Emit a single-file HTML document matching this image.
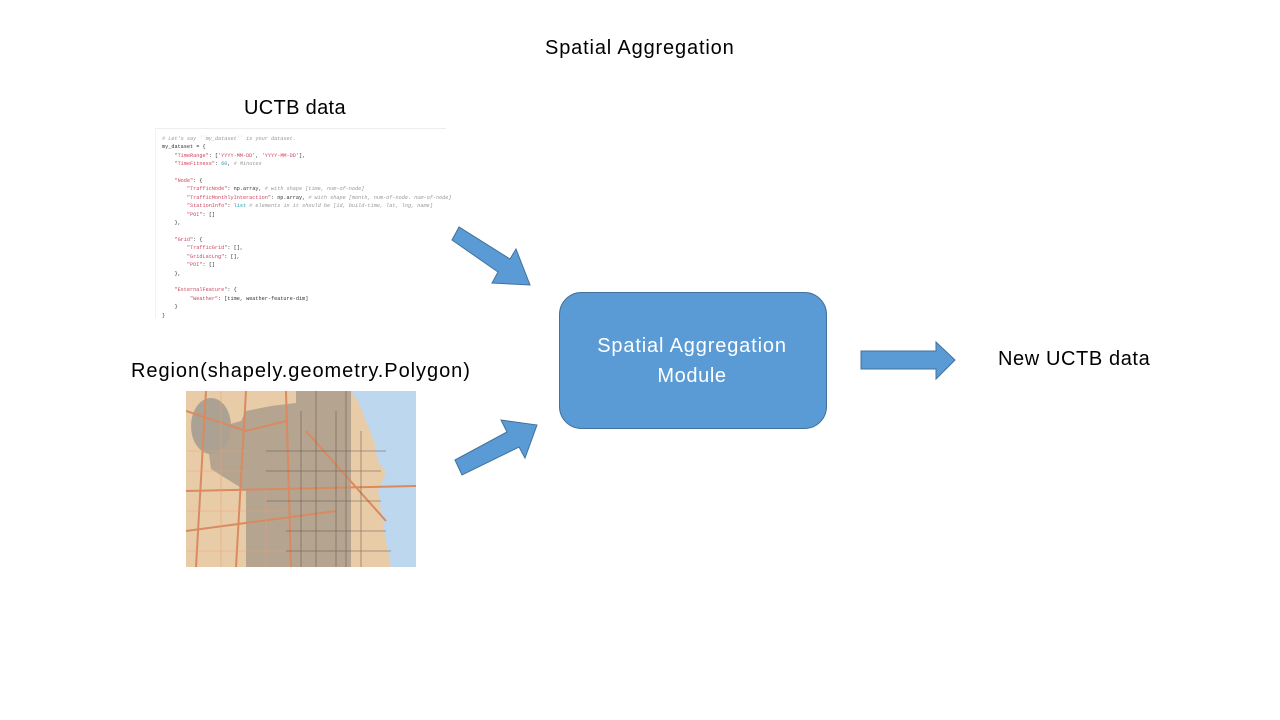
<!DOCTYPE html>
<html><head><style>
body{margin:0;width:1280px;height:720px;background:#fff;position:relative;overflow:hidden;font-family:"Liberation Sans",sans-serif}
.t{position:absolute;font-size:20px;color:#000;white-space:nowrap}
.code{position:absolute;left:155px;top:128px;width:291px;height:190px;border-top:1px solid #eee;border-left:1px solid #f2f2f2;font-family:"Liberation Mono",monospace;font-size:5.2px;line-height:8.4px;color:#333;padding:6px 0 0 6px;box-sizing:border-box;white-space:pre}
.r{color:#d0455f}.g{color:#999;font-style:italic}.b{color:#2a9bb0}
</style></head><body>
<div class="t" style="left:545px;top:37px;letter-spacing:0.85px">Spatial Aggregation</div>
<div class="t" style="left:244px;top:97px;letter-spacing:0.33px">UCTB data</div>
<div class="t" style="left:131px;top:360px;letter-spacing:0.95px">Region(shapely.geometry.Polygon)</div>
<div class="t" style="left:998px;top:348px;letter-spacing:0.6px">New UCTB data</div>
<div class="code"><span class="g"># Let's say ``my_dataset`` is your dataset.</span>
my_dataset = {
    <span class="r">"TimeRange"</span>: [<span class="r">'YYYY-MM-DD'</span>, <span class="r">'YYYY-MM-DD'</span>],
    <span class="r">"TimeFitness"</span>: <span class="b">60</span>, <span class="g"># Minutes</span>

    <span class="r">"Node"</span>: {
        <span class="r">"TrafficNode"</span>: np.array, <span class="g"># with shape [time, num-of-node]</span>
        <span class="r">"TrafficMonthlyInteraction"</span>: np.array, <span class="g"># with shape [month, num-of-node. num-of-node]</span>
        <span class="r">"StationInfo"</span>: <span class="b">list</span> <span class="g"># elements in it should be [id, build-time, lat, lng, name]</span>
        <span class="r">"POI"</span>: []
    },

    <span class="r">"Grid"</span>: {
        <span class="r">"TrafficGrid"</span>: [],
        <span class="r">"GridLatLng"</span>: [],
        <span class="r">"POI"</span>: []
    },

    <span class="r">"ExternalFeature"</span>: {
         <span class="r">"Weather"</span>: [time, weather-feature-dim]
    }
}</div>
<svg style="position:absolute;left:186px;top:391px" width="230" height="176" viewBox="0 0 230 176">
<rect width="230" height="176" fill="#e8cca8"/>
<polygon points="55,30 60,20 85,15 110,12 110,0 165,0 165,176 60,176 60,100 25,78 20,40" fill="#b5a490"/>
<ellipse cx="25" cy="35" rx="20" ry="28" fill="#aca293"/>
<path d="M165,0 L230,0 L230,176 L205,176 L200,150 L195,120 L192,100 L200,82 L192,70 L188,50 L180,30 L172,10 Z" fill="#bdd7ee"/>
<g stroke="#d98a60" stroke-width="2" fill="none">
<path d="M0,20 L60,40 L100,30"/><path d="M0,100 L230,95"/><path d="M0,140 L150,120"/><path d="M20,0 L10,176"/><path d="M100,0 L105,176"/><path d="M60,0 L50,176"/><path d="M120,40 L200,130"/>
</g>
<g stroke="#6a5a4c" stroke-width="0.8" fill="none" opacity="0.7">
<path d="M80,60 H200"/><path d="M80,80 H195"/><path d="M80,110 H195"/><path d="M100,140 H200"/><path d="M100,160 H205"/><path d="M130,0 V176"/><path d="M150,20 V176"/><path d="M175,40 V176"/><path d="M115,20 V176"/><path d="M160,0 V176"/>
</g>
<g stroke="#e9a078" stroke-width="0.6" fill="none" opacity="0.8">
<path d="M0,60 H60"/><path d="M0,80 H60"/><path d="M0,120 H100"/><path d="M0,160 H100"/><path d="M35,0 V176"/><path d="M80,100 V176"/>
</g>
</svg>
<svg style="position:absolute;left:0;top:0" width="1280" height="720">
<g fill="#5b9bd5" stroke="#41719c" stroke-width="1">
<polygon points="452,240 459,227 510,259 516,249 530,285 492,283 498,272"/>
<polygon points="455,460 462,475 519,447 525,458 537,425 501,420 507,432"/>
<polygon points="861,351 936,351 936,342 955,360 936,379 936,369 861,369"/>
<rect x="559.5" y="292.5" width="267" height="136" rx="22" ry="22"/>
</g>
<text x="692" y="352" fill="#fff" font-family="Liberation Sans,sans-serif" font-size="20" letter-spacing="0.85" text-anchor="middle">Spatial Aggregation</text>
<text x="692" y="382" fill="#fff" font-family="Liberation Sans,sans-serif" font-size="20" letter-spacing="0.6" text-anchor="middle">Module</text>
</svg>
</body></html>
